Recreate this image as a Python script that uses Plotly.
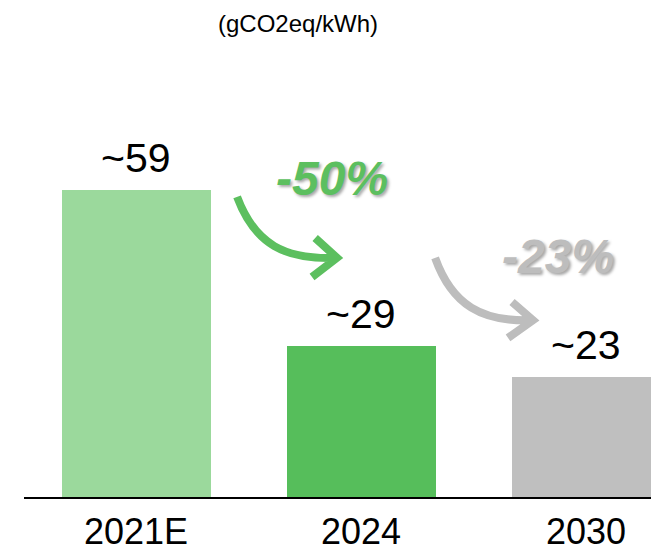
#%%
import plotly.graph_objects as go

#%%
# emission intensity (gCO2eq/kWh)
years = ['2021E', '2024', '2030']
values = [59, 29, 23]
value_labels = ['~59', '~29', '~23']
bar_colors = ['#9BD99C', '#56BE5B', '#BFBFBF']

changes = ['-50%', '-23%']
change_colors = ['#5CBF5F', '#BDBDBD']
unit = '(gCO2eq/kWh)'

x_pos = list(range(len(years)))

#%%
fig = go.Figure()
fig.add_trace(go.Bar(x=x_pos, y=values, width=0.662,
                     marker=dict(color=bar_colors, line=dict(width=0)),
                     hoverinfo='skip'))

# value labels above the bars
for x, v, lab in zip(x_pos, values, value_labels):
    fig.add_annotation(x=x, y=v, text=lab, showarrow=False, yanchor='bottom',
                       yshift=7, font=dict(size=41, color='black'))

# curved arrows between the bars
arrow_paths = [
    ('M 0.449,57.7 C 0.529,48.5 0.662,45.6 0.893,46.0 '
     'M 0.796,49.8 L 0.893,46.0 L 0.782,42.3', change_colors[0]),
    ('M 1.329,46.0 C 1.404,36.9 1.538,33.6 1.764,34.0 '
     'M 1.671,37.5 L 1.764,34.0 L 1.653,30.6', change_colors[1]),
]
for p, c in arrow_paths:
    fig.add_shape(type='path', path=p, xref='x', yref='y',
                  line=dict(color=c, width=8), layer='above')

# change labels
for (x, y), txt, c in zip([(0.871, 61.3), (1.876, 46.3)], changes, change_colors):
    fig.add_annotation(x=x, y=y, text=txt, showarrow=False,
                       font=dict(size=48, color=c, weight='bold', style='italic',
                                 shadow='2px 2px 3px rgba(0,0,0,0.35)'))

# unit label top left
fig.add_annotation(xref='paper', yref='paper', x=192 / 635, y=1,
                   yanchor='top', text=unit, showarrow=False,
                   font=dict(size=24, color='black'))

# page body has an 8px margin, so the figure is 8px smaller
fig.update_layout(
    width=651, height=545,
    margin=dict(l=16, r=0, t=0, b=56),
    plot_bgcolor='white', paper_bgcolor='white',
    font=dict(family='Liberation Sans, Arial, sans-serif', color='black'),
    showlegend=False,
    bargap=0,
)
fig.update_xaxes(range=[-0.498, 2.324], tickvals=x_pos, ticktext=years,
                 showline=True, linecolor='black', linewidth=2,
                 showgrid=False, zeroline=False, ticks='',
                 ticklabelstandoff=2, automargin=False,
                 tickfont=dict(size=36, color='black'))
fig.update_yaxes(range=[0, 489 / 5.2], visible=False, showgrid=False,
                 automargin=False)

fig.write_html("out.html")
